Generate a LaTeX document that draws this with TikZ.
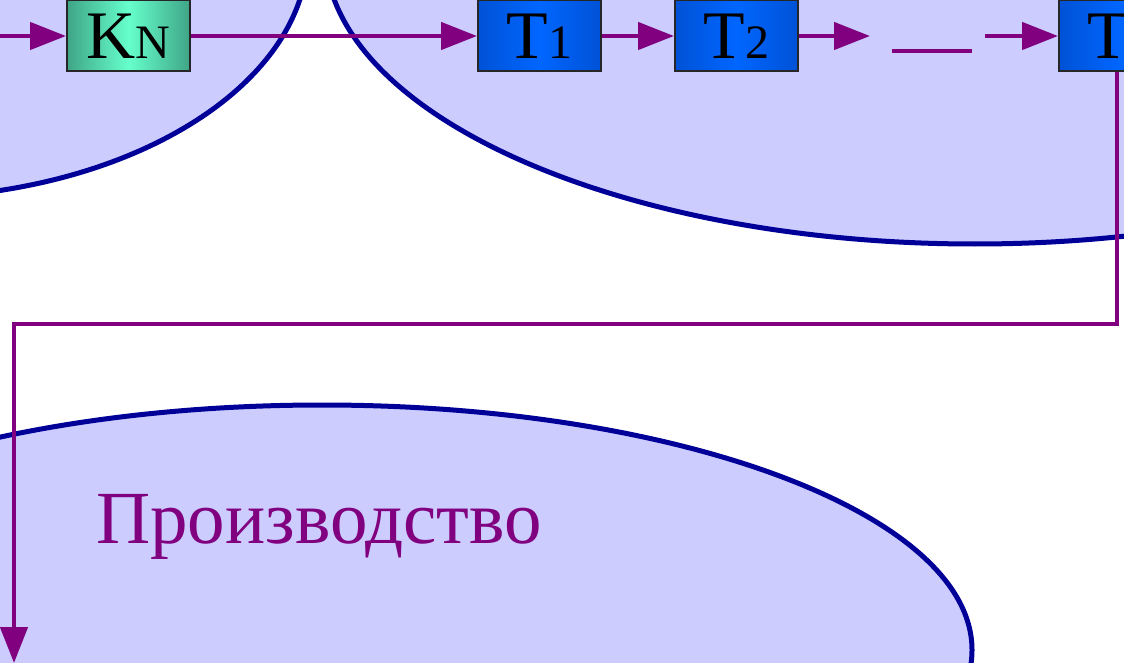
\documentclass[tikz,border=0pt]{standalone}
\usepackage{fontspec}
\setmainfont{Liberation Serif}
\usepackage{tikz}
\usetikzlibrary{arrows.meta,positioning}

\definecolor{zonefill}{HTML}{CCCCFF}
\definecolor{zoneline}{HTML}{000099}
\definecolor{flowcol}{HTML}{800080}
\definecolor{kdark}{HTML}{3FA586}
\definecolor{klight}{HTML}{66FFCC}
\definecolor{tdark}{HTML}{0052D6}
\definecolor{tlight}{HTML}{0066FF}

\newcommand{\blocklabel}[2]{{\fontsize{68}{68}\selectfont #1}{\fontsize{48}{48}\selectfont #2}}

\begin{document}
\begin{tikzpicture}[x=1pt,y=-1pt,
    zone/.style={fill=zonefill, draw=zoneline, line width=5pt},
    block/.style={draw=black!85, line width=2pt, minimum width=123pt, minimum height=71pt,
                  inner sep=0pt, shading angle=-45},
    kblock/.style={block, left color=kdark, right color=kdark, middle color=klight},
    tblock/.style={block, left color=tdark, right color=tdark, middle color=tlight},
    flow/.style={draw=flowcol, line width=4.5pt, -{Triangle[length=36pt 0,width=27pt 0]}}]

  \useasboundingbox (0,0) rectangle (1124,663);
  \clip (0,0) rectangle (1124,663);

  % ── zones ───────────────────────────────────────────────────────────
  \path[zone] (-100,-50) ellipse [x radius=408, y radius=248];
  \path[zone] (975,-50)  ellipse [x radius=650, y radius=294];
  \path[zone] (322,650)  ellipse [x radius=650, y radius=245];

  \node[text=flowcol, anchor=base west, inner sep=0pt, font=\fontsize{75}{75}\selectfont]
       (prod) at (96,543) {Производство};

  % ── chain of blocks ─────────────────────────────────────────────────
  \node[kblock] (kn) at (128.5,36) {\blocklabel{K}{N}};
  \node[tblock] (t1) at (539.5,36) {\blocklabel{T}{1}};
  \node[tblock] (t2) at (736.5,36) {\blocklabel{T}{2}};
  \node[tblock, anchor=west] (tn) at (1058,36) {\blocklabel{T}{\phantom{1}}};

  \coordinate (inlet)  at (0,36);
  \coordinate (gapin)  at (870,36);
  \coordinate (gapout) at (985,36);
  \coordinate (dashA)  at (892,51);
  \coordinate (dashB)  at (972,51);
  \coordinate (corner) at (14,324);
  \coordinate (outlet) at (14,663);

  % ── connectors ──────────────────────────────────────────────────────
  \draw[flow] (inlet) -- (kn);
  \draw[flow] (kn) -- (t1);
  \draw[flow] (t1) -- (t2);
  \draw[flow] (t2) -- (gapin);
  \draw[draw=flowcol, line width=4.5pt] (dashA) -- (dashB);
  \draw[flow] (gapout) -- (tn);
  \draw[flow] (tn.south -| 1117,0) |- (corner) -- (outlet);

\end{tikzpicture}
\end{document}
